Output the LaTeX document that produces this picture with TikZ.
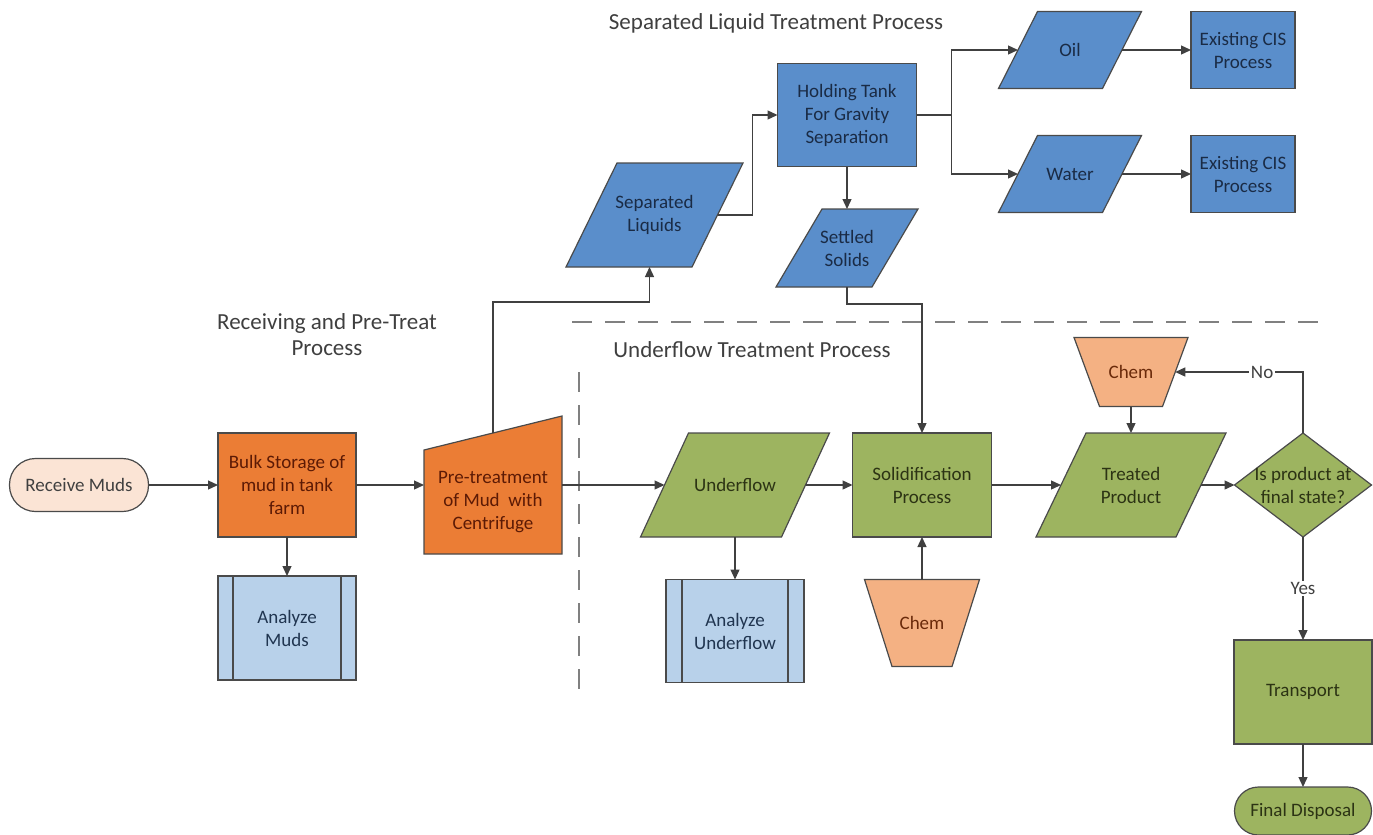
\documentclass[tikz,border=0pt]{standalone}
\usepackage{fontspec}
\setmainfont{Carlito}
\usetikzlibrary{shapes.geometric,arrows.meta,calc}
\definecolor{lnc}{HTML}{404040}
\definecolor{brd}{HTML}{4A4A4A}
\definecolor{bluef}{HTML}{5A8ECB}
\definecolor{bluet}{HTML}{1A2B45}
\definecolor{orf}{HTML}{EB7D35}
\definecolor{ort}{HTML}{5C1A05}
\definecolor{grf}{HTML}{9DB460}
\definecolor{grt}{HTML}{2C3314}
\definecolor{lbf}{HTML}{B8D1EA}
\definecolor{lbt}{HTML}{203550}
\definecolor{chf}{HTML}{F4B183}
\definecolor{cht}{HTML}{6A2A0A}
\definecolor{pkf}{HTML}{FBE4D5}
\definecolor{dsh}{HTML}{808080}
\definecolor{hdc}{HTML}{3F3F3F}
% parallelogram: name, centre, width, height, slant, fill, text colour, text
\newcommand{\mkpara}[8]{%
  \draw[shp, fill=#6] #2 ++(-#3/2, #4/2) -- ++(#3-#5, 0) -- ++(#5, -#4) -- ++(-#3+#5, 0) -- cycle;
  \node[minimum width=#3, minimum height=#4, text=#7] (#1) at #2 {#8};
  \coordinate (#1-w) at ($(#1.west)+(#5/2,0)$);
  \coordinate (#1-e) at ($(#1.east)-(#5/2,0)$);
}
% inverted trapezoid: name, centre, top width, bottom width, height, text
\newcommand{\mkchem}[6]{%
  \draw[shp, fill=chf] #2 ++(-#3/2, -#5/2) -- ++(#3, 0) -- ++(-#3/2+#4/2, #5) -- ++(-#4, 0) -- cycle;
  \node[minimum width=#3, minimum height=#5, text=cht] (#1) at #2 {#6};
  \coordinate (#1-e) at ($(#1.center)+(#3/4+#4/4,0)$);
}
\begin{document}
\begin{tikzpicture}[x=1pt,y=-1pt,
  every node/.style={inner sep=0pt, outer sep=0pt, align=center, font=\fontsize{19}{23}\selectfont},
  shp/.style={draw=brd, line width=1.2pt},
  boxb/.style={shp, rectangle, fill=bluef, text=bluet},
  boxo/.style={shp, rectangle, fill=orf, text=ort},
  boxg/.style={shp, rectangle, fill=grf, text=grt},
  boxl/.style={shp, rectangle, fill=lbf, text=lbt},
  term/.style={shp, rectangle, rounded corners=24pt},
  heading/.style={text=hdc, font=\fontsize{23}{26}\selectfont},
  lbl/.style={fill=white, inner sep=1.5pt, text=lnc},
  conn/.style={draw=lnc, line width=1.3pt},
  arr/.style={conn, -{Triangle[length=10pt,width=9pt]}},
  sep/.style={draw=dsh, line width=1.8pt, dash pattern=on 20pt off 13pt}
]
\useasboundingbox (0,0) rectangle (1373,835);

% separators
\draw[sep] (572,322) -- (1328,322);
\draw[sep] (579,372) -- (579,702);

% headings
\node[heading] (h1) at (776,23) {Separated Liquid Treatment Process};
\node[heading] (h2) at (327,335) {Receiving and Pre-Treat\\Process};
\node[heading] (h3) at (752,350) {Underflow Treatment Process};

% receiving
\node[term, fill=pkf, text=lnc, minimum width=139, minimum height=53, rounded corners=26pt] (rm) at (79,485) {Receive Muds};
\node[boxo, minimum width=138, minimum height=104] (bulk) at (287,485) {Bulk Storage of\\mud in tank\\farm};
\node[boxl, minimum width=138, minimum height=104] (am) at (287,628) {Analyze\\Muds};
\draw[shp] ([xshift=15]am.north west) -- ([xshift=15]am.south west);
\draw[shp] ([xshift=-15]am.north east) -- ([xshift=-15]am.south east);
\node[minimum width=138, minimum height=138] (pt) at (493,485) {};
\draw[shp, fill=orf] (pt.south west) -- (pt.south east) -- (pt.north east) -- ($(pt.north west)+(0,34)$) -- cycle;
\node[text=ort] (ptt) at (493,502) {Pre-treatment\\of Mud\ \ with\\Centrifuge};

% separated liquids
\mkpara{sl}{(654.5,215)}{177}{104}{51}{bluef}{bluet}{Separated\\Liquids}
\node[boxb, minimum width=139, minimum height=103] (ht) at (847,115) {Holding Tank\\For Gravity\\Separation};
\mkpara{ss}{(847,248)}{142}{78}{46}{bluef}{bluet}{Settled\\Solids}
\mkpara{oil}{(1070,50)}{143}{77}{39}{bluef}{bluet}{Oil}
\mkpara{wat}{(1070,174)}{143}{77}{39}{bluef}{bluet}{Water}
\node[boxb, minimum width=104, minimum height=77] (cis1) at (1243,50) {Existing CIS\\Process};
\node[boxb, minimum width=104, minimum height=77] (cis2) at (1243,174) {Existing CIS\\Process};

% underflow
\mkpara{uf}{(735,485)}{189}{104}{48}{grf}{grt}{Underflow}
\node[boxl, minimum width=138, minimum height=103] (au) at (735,631) {Analyze\\Underflow};
\draw[shp] ([xshift=16]au.north west) -- ([xshift=16]au.south west);
\draw[shp] ([xshift=-16]au.north east) -- ([xshift=-16]au.south east);
\node[boxg, minimum width=139, minimum height=104] (sol) at (922,485) {Solidification\\Process};
\mkchem{ch1}{(922,623)}{115}{60}{87}{Chem}
\mkpara{tp}{(1131,485)}{190}{104}{50}{grf}{grt}{Treated\\Product}
\mkchem{ch2}{(1131,372)}{114}{63}{69}{Chem}
\node[shp, diamond, fill=grf, minimum width=137, minimum height=104, aspect=1.32] (dq) at (1303,485) {};
\node[text=grt] (dqt) at (1303,485) {Is product at\\final state?};
\node[boxg, minimum width=138, minimum height=104] (tr) at (1303,692) {Transport};
\node[term, fill=grf, text=grt, minimum width=137, minimum height=48] (fd) at (1303,811) {Final Disposal};

% connectors
\draw[arr] (rm.east) -- (bulk.west);
\draw[arr] (bulk.south) -- (am.north);
\draw[arr] (bulk.east) -- (pt.west);
\draw[arr] ($(pt.north)+(0,17)$) |- ($(sl.south)+(-5,35)$) -- ($(sl.south)+(-5,0)$);
\draw[arr] (sl-e) -| ($(ht.west)+(-25,0)$) -- (ht.west);
\draw[arr] (ht.south) -- (ht.south |- ss.north);
\draw[conn] (ht.east) -- ++(35,0) coordinate (br);
\draw[arr] (br) |- (oil-w);
\draw[arr] (br) |- (wat-w);
\draw[arr] (oil-e) -- (cis1.west);
\draw[arr] (wat-e) -- (cis2.west);
\draw[arr] (ss.south) -- ++(0,17) -| (sol.north);
\draw[arr] (pt.east) -- (uf-w);
\draw[arr] (uf.south) -- (au.north);
\draw[arr] (uf-e) -- (sol.west);
\draw[arr] (ch1.north) -- (sol.south);
\draw[arr] (sol.east) -- (tp-w);
\draw[arr] (ch2.south) -- (ch2.south |- tp.north);
\draw[arr] (tp-e) -- (dq.west);
\draw[arr] (dq.north) |- node[lbl, pos=0.66] {No} (ch2-e);
\draw[arr] (dq.south) -- node[lbl] {Yes} (tr.north);
\draw[arr] (tr.south) -- (fd.north);
\end{tikzpicture}
\end{document}
